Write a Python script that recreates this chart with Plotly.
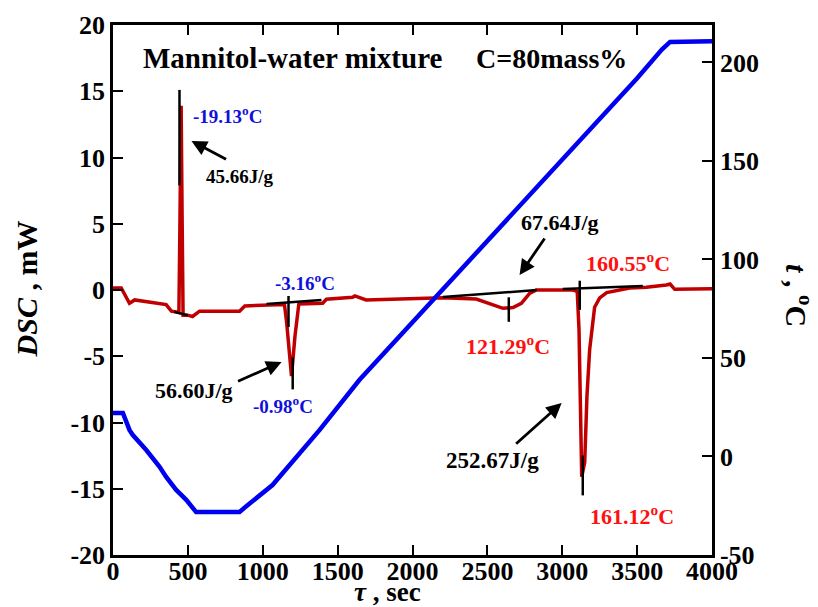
import plotly.graph_objects as go

# DSC heat flow (mW) versus time (s)
dsc_time = [0, 55, 110, 145, 355, 390, 424, 440, 446, 455, 462, 468, 498, 531, 578,
            845, 880, 1145, 1160, 1192, 1215, 1241, 1400, 1425, 1600, 1615, 1690,
            1914, 2203, 2426, 2515, 2604, 2671, 2727, 2782, 2827, 3071, 3100, 3112,
            3130, 3150, 3165, 3183, 3216, 3250, 3297, 3450, 3562, 3695, 3720, 3751, 4000]
dsc_value = [0.15, 0.15, -1.0, -0.75, -1.1, -1.6, -1.66, -1.7, 4.0, 13.9, 5.0, -1.9, -1.9, -2.0, -1.6,
             -1.6, -1.2, -1.1, -2.5, -6.5, -3.5, -1.05, -1.0, -0.7, -0.55, -0.45, -0.75,
             -0.66, -0.58, -0.68, -1.0, -1.38, -1.33, -1.0, -0.25, 0.0, 0.0, -0.1, -3.0,
             -14.1, -13.0, -8.0, -4.5, -1.3, -0.6, -0.2, 0.15, 0.2, 0.38, 0.45, 0.05, 0.1]

# Sample temperature (°C) versus time (s)
temp_time = [0, 66, 110, 131, 222, 311, 355, 422, 489, 555, 845, 878, 1065, 1380, 1645,
             2150, 2738, 3116, 3500, 3665, 3720, 4000]
temp_value = [22.1, 22.1, 13.5, 11.0, 3.3, -5.2, -10.4, -17.0, -22.0, -28.2, -28.2, -26.0,
              -14.5, 13.5, 38.8, 80.5, 129.5, 160.0, 192.0, 206.5, 210.4, 210.8]

# Baseline and peak construction segments: (x0, x1, y0, y1)
construction = [
    (410, 500, -1.65, -1.9),
    (444, 444, 7.9, 15.1),
    (1025, 1392, -1.06, -0.75),
    (1172, 1172, -0.45, -2.8),
    (1200, 1200, -5.1, -7.5),
    (2203, 2830, -0.53, 0.0),
    (2643, 2643, -0.55, -2.4),
    (3003, 3538, 0.07, 0.3),
    (3117, 3117, 0.7, -1.5),
    (3137, 3137, -12.5, -15.5),
]

# Enthalpy labels with their arrows: text, text pos, arrow tail, arrow head, size
enthalpy = [
    ("45.66J/g", 845, 8.6, 765, 9.8, 524, 11.25, 19),
    ("56.60J/g", 544, -7.55, 825, -6.94, 1126, -5.43, 22),
    ("67.64J/g", 2983, 5.13, 2889, 4.0, 2715, 1.13, 22),
    ("252.67J/g", 2535, -12.83, 2682, -11.7, 2996, -8.53, 23),
]

# Temperature labels: text, x, y, colour, size, anchor
temp_labels = [
    ("-19.13<sup>o</sup>C", 524, 13.2, "#1010dd", 19, "left"),
    ("-3.16<sup>o</sup>C", 1279, 0.6, "#1010dd", 19, "center"),
    ("-0.98<sup>o</sup>C", 1132, -8.68, "#1010dd", 19, "center"),
    ("121.29<sup>o</sup>C", 2635, -4.15, "#ff1010", 22, "center"),
    ("160.55<sup>o</sup>C", 3437, 2.1, "#ff1010", 22, "center"),
    ("161.12<sup>o</sup>C", 3464, -17.0, "#ff1010", 22, "center"),
]

x_ticks = [0, 500, 1000, 1500, 2000, 2500, 3000, 3500, 4000]
y_ticks = [-20, -15, -10, -5, 0, 5, 10, 15, 20]
y2_ticks = [-50, 0, 50, 100, 150, 200]

FONT = "Liberation Serif"


def bold_labels(values):
    return [f"<b>{v}</b>" for v in values]


fig = go.Figure()

fig.add_trace(go.Scatter(x=dsc_time, y=dsc_value, mode="lines",
                         line=dict(color="#c00000", width=3.5), showlegend=False))

for x0, x1, y0, y1 in construction:
    fig.add_trace(go.Scatter(x=[x0, x1], y=[y0, y1], mode="lines",
                             line=dict(color="black", width=2.5), showlegend=False))

fig.add_trace(go.Scatter(x=temp_time, y=temp_value, mode="lines", yaxis="y2",
                         line=dict(color="#0000f0", width=4.5), showlegend=False))

annotations = []
for text, tx, ty, ax, ay, hx, hy, size in enthalpy:
    annotations.append(dict(x=hx, y=hy, ax=ax, ay=ay, xref="x", yref="y", axref="x", ayref="y",
                            text="", showarrow=True, arrowhead=2, arrowsize=1.1,
                            arrowwidth=2.8, arrowcolor="black", standoff=0, startstandoff=0))
    annotations.append(dict(x=tx, y=ty, xref="x", yref="y", text=f"<b>{text}</b>",
                            showarrow=False,
                            font=dict(family=FONT, size=size, color="black")))

for text, tx, ty, color, size, anchor in temp_labels:
    annotations.append(dict(x=tx, y=ty, xref="x", yref="y", text=f"<b>{text}</b>",
                            showarrow=False, xanchor=anchor,
                            font=dict(family=FONT, size=size, color=color)))

annotations += [
    dict(x=1199, y=17.5, xref="x", yref="y", text="<b>Mannitol-water mixture</b>",
         showarrow=False, font=dict(family=FONT, size=29, color="black")),
    dict(x=2930, y=17.5, xref="x", yref="y", text="<b>C=80mass%</b>", showarrow=False,
         font=dict(family=FONT, size=28, color="black")),
    dict(x=-0.1445, y=0.502, xref="paper", yref="paper", text="<b><i>DSC</i> , mW</b>",
         textangle=-90, showarrow=False, xanchor="center", yanchor="middle",
         font=dict(family=FONT, size=30, color="black")),
    dict(x=1.144, y=0.49, xref="paper", yref="paper", text="<b><i>t</i> , <sup>o</sup>C</b>",
         textangle=90, showarrow=False, xanchor="center", yanchor="middle",
         font=dict(family=FONT, size=30, color="black")),
    dict(x=0.459, y=-0.07, xref="paper", yref="paper", text="<b><i>τ</i> , sec</b>",
         showarrow=False, xanchor="center", yanchor="middle",
         font=dict(family=FONT, size=27, color="black")),
]

tick_font = dict(family=FONT, size=26, color="black")

fig.update_layout(
    width=818, height=607,
    margin=dict(l=113, r=106, t=25, b=52),
    paper_bgcolor="white", plot_bgcolor="white",
    font=dict(family=FONT, color="black"),
    xaxis=dict(range=[0, 4000], tickvals=x_ticks, ticktext=bold_labels(x_ticks),
               ticks="inside", ticklen=10, tickwidth=1.5, ticklabelstandoff=-9,
               tickcolor="black", showline=True, linecolor="black", linewidth=2.5,
               mirror="ticks", showgrid=False, zeroline=False, tickfont=tick_font),
    yaxis=dict(range=[-20, 20], tickvals=y_ticks, ticktext=bold_labels(y_ticks),
               ticks="inside", ticklen=10, tickwidth=1.5,
               tickcolor="black", showline=True, linecolor="black", linewidth=2.5,
               showgrid=False, zeroline=False, tickfont=tick_font),
    yaxis2=dict(range=[-50, 219], tickvals=y2_ticks, ticktext=bold_labels(y2_ticks),
                overlaying="y", side="right",
                ticks="inside", ticklen=10, tickwidth=1.5, tickcolor="black",
                showline=True, linecolor="black", linewidth=2.5,
                showgrid=False, zeroline=False, tickfont=tick_font),
    annotations=annotations,
)

fig.write_html("out.html")
